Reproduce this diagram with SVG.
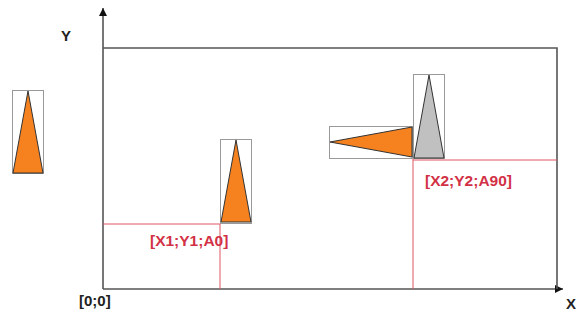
<svg xmlns="http://www.w3.org/2000/svg" width="581" height="320" viewBox="0 0 581 320">
<style>
.ax{stroke:#555;stroke-width:1.6;fill:none}
.red{stroke:#e05565;stroke-width:1;fill:none}
.box{stroke:#999;stroke-width:1;fill:none}
.tri{fill:#f5821f;stroke:#333;stroke-width:1}
.gtri{fill:#c0c0c0;stroke:#333;stroke-width:1}
.lbl{font-family:"Liberation Sans",Arial,sans-serif;font-weight:bold;font-size:15px;fill:#222}
.rl{font-family:"Liberation Sans",Arial,sans-serif;font-weight:bold;font-size:15.5px;fill:#d23145}
</style>
<defs>
<marker id="ah" markerWidth="10" markerHeight="10" refX="8" refY="4" orient="auto" markerUnits="userSpaceOnUse">
<path d="M0,0 L8,4 L0,8 Z" fill="#111"/>
</marker>
</defs>
<rect width="581" height="320" fill="#fff"/>
<g id="connectors">
<line class="ax" x1="103" y1="289" x2="103" y2="8" marker-end="url(#ah)"/>
<line class="ax" x1="103" y1="289" x2="563" y2="289" marker-end="url(#ah)"/>
<polyline class="ax" points="103,48 557,48 557,289"/>
<polyline class="red" points="103,224 220,224 220,289"/>
<line class="red" x1="413" y1="160" x2="557" y2="160"/>
<line class="red" x1="413" y1="159" x2="413" y2="289"/>
</g>
<g id="label-y"><text class="lbl" x="61" y="41">Y</text></g>
<g id="label-x"><text class="lbl" x="566" y="309">X</text></g>
<g id="label-origin"><text class="lbl" x="79" y="306">[0;0]</text></g>
<g id="tri-left">
<rect class="box" x="12.5" y="90.5" width="31" height="83"/>
<polygon class="tri" points="28,91 43,173 13,173"/>
</g>
<g id="tri-mid">
<rect class="box" x="220.5" y="139.5" width="31" height="84"/>
<polygon class="tri" points="236,140 251,222 221,222"/>
</g>
<g id="tri-rot">
<rect class="box" x="329.5" y="126.5" width="83" height="32"/>
<polygon class="tri" points="330,142 412,127 412,157"/>
</g>
<g id="tri-gray">
<rect class="box" x="413.5" y="74.5" width="31" height="84"/>
<polygon class="gtri" points="429,75 444,158 414,158"/>
</g>
<g id="label-p1"><text class="rl" x="150" y="246">[X1;Y1;A0]</text></g>
<g id="label-p2"><text class="rl" x="425" y="186">[X2;Y2;A90]</text></g>
</svg>
